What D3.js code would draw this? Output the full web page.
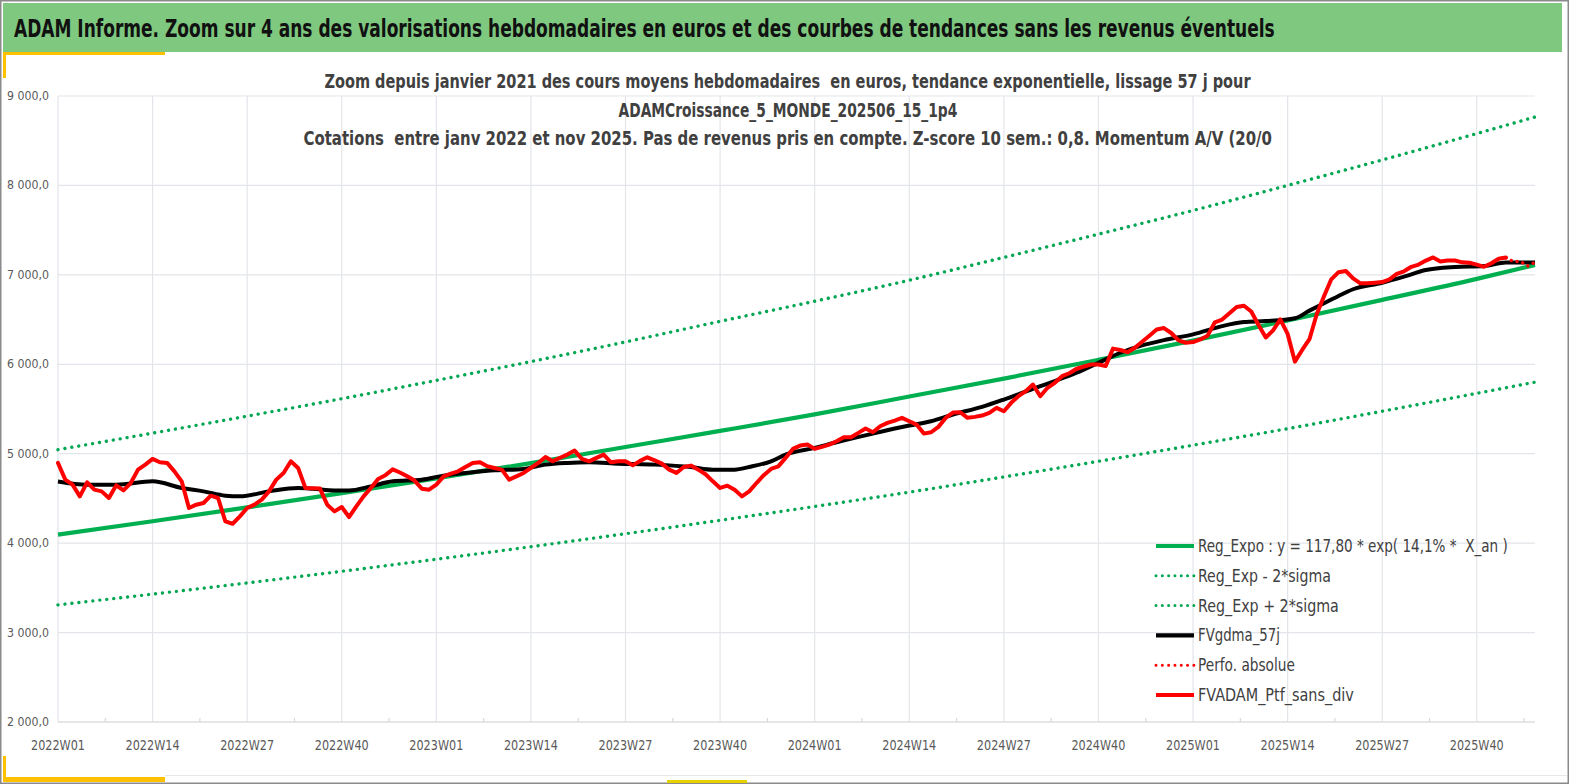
<!DOCTYPE html>
<html>
<head>
<meta charset="utf-8">
<script src="https://cdn.jsdelivr.net/npm/d3@7"></script>
<style>
  body { margin: 0; background: #fff; }
  text { font-family: 'Liberation Sans Narrow', 'DejaVu Sans Condensed', 'Roboto', sans-serif; white-space: pre; }
</style>
</head>
<body>
<div id="chart"></div>
<script>
// x axis labels (one every 13 weeks)
var weekLabels = ['2022W01', '2022W14', '2022W27', '2022W40', '2023W01', '2023W14',
	'2023W27', '2023W40', '2024W01', '2024W14', '2024W27', '2024W40',
	'2025W01', '2025W14', '2025W27', '2025W40'];
var yTicks = [2000, 3000, 4000, 5000, 6000, 7000, 8000, 9000];

// exponential trend and +/- 2 sigma bands, read every 13 weeks
var trendWeeks = [0, 13, 26, 39, 52, 65, 78, 91, 104, 117, 130, 143, 156, 169, 182, 195, 203];
var regExpo = [4095, 4245, 4400, 4560, 4725, 4895, 5075, 5255, 5440, 5640, 5840, 6050, 6265, 6490, 6720, 6955, 7110];
var regLow = [3310, 3430, 3555, 3685, 3820, 3960, 4105, 4255, 4410, 4570, 4740, 4915, 5095, 5280, 5475, 5675, 5800];
var regHigh = [5045, 5230, 5420, 5615, 5820, 6030, 6250, 6480, 6705, 6940, 7195, 7455, 7720, 8000, 8285, 8580, 8765];

// smoothed 57 days
var smoothWeeks = [0, 4, 8, 13, 17, 20, 23, 25, 29, 33, 35, 38, 40, 43, 46, 50, 53, 57, 60, 64, 67, 70, 73, 77,
	82, 87, 90, 93, 95, 98, 100, 104, 107, 112, 117, 120, 123, 127, 130, 134, 137, 140, 143, 146, 149,
	152, 156, 160, 163, 166, 170, 172, 174, 176, 178, 182, 185, 188, 192, 196, 199, 203];
var smoothValues = [4690, 4654, 4654, 4691, 4617, 4579, 4531, 4523, 4579, 4617, 4609, 4590, 4590, 4635, 4691,
	4710, 4755, 4792, 4814, 4830, 4878, 4897, 4904, 4889, 4878, 4852, 4822, 4822, 4852, 4915, 4990,
	5065, 5128, 5225, 5315, 5363, 5438, 5524, 5606, 5726, 5812, 5905, 6017, 6129, 6211, 6270, 6334,
	6427, 6472, 6483, 6515, 6600, 6682, 6764, 6839, 6912, 6980, 7054, 7088, 7099, 7137, 7137];

// weekly portfolio value without dividends, week 0 .. 199
var ptfValues = [
	4897, 4710, 4654, 4523, 4680, 4598, 4579, 4505, 4646, 4590,
	4672, 4822, 4878, 4942, 4904, 4897, 4803, 4691, 4393, 4430,
	4449, 4531, 4505, 4243, 4217, 4299, 4393, 4430, 4486, 4579,
	4710, 4785, 4915, 4841, 4617, 4615, 4610, 4430, 4355, 4404,
	4292, 4411, 4523, 4617, 4718, 4760, 4825, 4790, 4747, 4700,
	4609, 4598, 4654, 4747, 4777, 4803, 4852, 4897, 4904, 4859,
	4841, 4822, 4710, 4747, 4785, 4841, 4897, 4964, 4915, 4955,
	4990, 5035, 4942, 4915, 4953, 4990, 4904, 4915, 4915, 4870,
	4920, 4960, 4926, 4889, 4822, 4785, 4852, 4867, 4822, 4770,
	4691, 4617, 4643, 4598, 4523, 4579, 4672, 4760, 4830, 4859,
	4953, 5054, 5091, 5102, 5054, 5076, 5102, 5139, 5184, 5184,
	5233, 5281, 5240, 5307, 5345, 5371, 5401, 5363, 5326, 5225,
	5240, 5300, 5400, 5460, 5464, 5401, 5412, 5427, 5457, 5513,
	5475, 5569, 5643, 5699, 5774, 5643, 5737, 5793, 5867, 5900,
	5950, 5975, 5998, 5998, 5980, 6175, 6160, 6135, 6185, 6252,
	6320, 6390, 6405, 6350, 6267, 6241, 6248, 6278, 6320, 6470,
	6500, 6570, 6640, 6655, 6590, 6440, 6300, 6380, 6502, 6340,
	6030, 6160, 6280, 6560, 6760, 6950, 7030, 7043, 6960, 6905,
	6905, 6912, 6920, 6950, 7010, 7040, 7090, 7115, 7160, 7195,
	7150, 7160, 7160, 7140, 7135, 7115, 7090, 7130, 7180, 7195];

// absolute performance, only visible past the end of the portfolio line
var perfWeeks = [199, 200, 201, 202, 203];
var perfValues = [7190, 7150, 7150, 7100, 7140];

var legendItems = [
	{name: 'Reg_Expo : y = 117,80 * exp( 14,1% *  X_an )', color: '#00b050', dotted: false},
	{name: 'Reg_Exp - 2*sigma', color: '#00a651', dotted: true},
	{name: 'Reg_Exp + 2*sigma', color: '#00a651', dotted: true},
	{name: 'FVgdma_57j', color: '#000000', dotted: false},
	{name: 'Perfo. absolue', color: '#ff0000', dotted: true},
	{name: 'FVADAM_Ptf_sans_div', color: '#ff0000', dotted: false}
];

var W = 1569, H = 784;
var svg = d3.select('#chart').append('svg')
	.attr('width', W).attr('height', H);

// squeeze a text horizontally to a given width (narrow font look)
function fitWidth(sel, x0, y0, width, anchor) {
	sel.each(function() {
		var len = this.getComputedTextLength();
		var s = width / len;
		var tx = anchor == 'middle' ? x0 - width / 2 : x0;
		d3.select(this).attr('x', 0).attr('y', 0).attr('text-anchor', 'start')
			.attr('transform', 'translate(' + tx + ',' + y0 + ') scale(' + s + ',1)');
	});
}

// frame and banner
svg.append('rect').attr('x', 0.75).attr('y', 0.75).attr('width', W - 1.5).attr('height', H - 1.5)
	.attr('fill', '#fff').attr('stroke', '#8a8a8a').attr('stroke-width', 1.5);
svg.append('rect').attr('x', 3).attr('y', 3).attr('width', 1559).attr('height', 49)
	.attr('fill', '#7ec87f');
svg.append('text')
	.attr('font-size', 25).attr('font-weight', 'bold').attr('fill', '#111')
	.text('ADAM Informe. Zoom sur 4 ans des valorisations hebdomadaires en euros et des courbes de tendances sans les revenus éventuels')
	.call(fitWidth, 14, 37, 1262, 'start');

// yellow accents
var gold = '#ffc000';
svg.append('rect').attr('x', 3).attr('y', 52).attr('width', 162).attr('height', 3).attr('fill', gold);
svg.append('rect').attr('x', 3).attr('y', 52).attr('width', 3).attr('height', 26).attr('fill', gold);
svg.append('rect').attr('x', 3).attr('y', 756).attr('width', 3).attr('height', 26).attr('fill', gold);
svg.append('rect').attr('x', 3).attr('y', 777).attr('width', 162).attr('height', 5).attr('fill', gold);
svg.append('rect').attr('x', 667).attr('y', 780).attr('width', 80).attr('height', 3).attr('fill', '#e6d200');
svg.append('line').attr('x1', 165).attr('x2', 1567).attr('y1', 775.5).attr('y2', 775.5)
	.attr('stroke', '#e8e8e8').attr('stroke-width', 1);

var x = d3.scaleLinear().domain([0, 203]).range([58, 1535]);
var y = d3.scaleLinear().domain([2000, 9000]).range([722, 96]);

// grid
var grid = svg.append('g');
grid.selectAll('.hg').data(yTicks).enter().append('line')
	.attr('x1', 58).attr('x2', 1535)
	.attr('y1', d => y(d)).attr('y2', d => y(d))
	.attr('stroke', '#e3e5ea').attr('stroke-width', 1.2);
grid.selectAll('.vg').data(weekLabels).enter().append('line')
	.attr('x1', (d, i) => x(i * 13)).attr('x2', (d, i) => x(i * 13))
	.attr('y1', y(9000)).attr('y2', y(2000))
	.attr('stroke', '#e3e5ea').attr('stroke-width', 1.2);
grid.selectAll('.mt').data(weekLabels).enter().append('line')
	.attr('x1', (d, i) => x(i * 13 + 6.5)).attr('x2', (d, i) => x(i * 13 + 6.5))
	.attr('y1', y(2000) - 4).attr('y2', y(2000))
	.attr('stroke', '#d9d9d9').attr('stroke-width', 1.2);
grid.append('line').attr('x1', 58).attr('x2', 1535).attr('y1', y(2000)).attr('y2', y(2000))
	.attr('stroke', '#d9d9d9').attr('stroke-width', 1.2);

// axis labels
var fmt = d3.formatLocale({decimal: ',', thousands: '\u00a0', grouping: [3], currency: ['', '€']}).format(',.1f');
svg.append('g').selectAll('text').data(yTicks).enter().append('text')
	.attr('font-size', 11.5).attr('fill', '#595959')
	.text(d => fmt(d))
	.each(function(d) { d3.select(this).call(fitWidth, 7, y(d) + 4, 42, 'start'); });
svg.append('g').selectAll('text').data(weekLabels).enter().append('text')
	.attr('font-size', 14).attr('fill', '#595959')
	.text(d => d)
	.each(function(d, i) { d3.select(this).call(fitWidth, x(i * 13), 750, 54, 'middle'); });

// chart subtitle
var subtitle = [
	['Zoom depuis janvier 2021 des cours moyens hebdomadaires  en euros, tendance exponentielle, lissage 57 j pour', 88, 927],
	['ADAMCroissance_5_MONDE_202506_15_1p4', 117, 339],
	['Cotations  entre janv 2022 et nov 2025. Pas de revenus pris en compte. Z-score 10 sem.: 0,8. Momentum A/V (20/0', 145, 969]
];
svg.append('g').selectAll('text').data(subtitle).enter().append('text')
	.attr('font-size', 19).attr('font-weight', 'bold').attr('fill', '#404040')
	.text(d => d[0])
	.each(function(d) { d3.select(this).call(fitWidth, 788, d[1], d[2], 'middle'); });

// lines
var curve = d3.line().x(d => x(d[0])).y(d => y(d[1])).curve(d3.curveMonotoneX);
var lines = svg.append('g').attr('fill', 'none');
function pairs(ws, vs) { return ws.map((w, i) => [w, vs[i]]); }

lines.append('path').datum(pairs(trendWeeks, regLow)).attr('d', curve)
	.attr('stroke', '#00a651').attr('stroke-width', 3.4)
	.attr('stroke-dasharray', '0.01 7').attr('stroke-linecap', 'round');
lines.append('path').datum(pairs(trendWeeks, regHigh)).attr('d', curve)
	.attr('stroke', '#00a651').attr('stroke-width', 3.4)
	.attr('stroke-dasharray', '0.01 7').attr('stroke-linecap', 'round');
lines.append('path').datum(pairs(trendWeeks, regExpo)).attr('d', curve)
	.attr('stroke', '#00b050').attr('stroke-width', 4.2);
lines.append('path').datum(pairs(smoothWeeks, smoothValues)).attr('d', curve)
	.attr('stroke', '#000').attr('stroke-width', 4);
lines.append('path').datum(pairs(perfWeeks, perfValues))
	.attr('d', d3.line().x(d => x(d[0])).y(d => y(d[1])))
	.attr('stroke', '#ff0000').attr('stroke-width', 3.4)
	.attr('stroke-dasharray', '0.01 6').attr('stroke-linecap', 'round');
lines.append('path').datum(ptfValues.map((v, i) => [i, v]))
	.attr('d', d3.line().x(d => x(d[0])).y(d => y(d[1])))
	.attr('stroke', '#ff0000').attr('stroke-width', 4)
	.attr('stroke-linejoin', 'round').attr('stroke-linecap', 'round');

// legend
var legendWidths = [310, 133, 141, 82, 97, 156];
var legend = svg.append('g').selectAll('g').data(legendItems).enter().append('g')
	.attr('transform', (d, i) => 'translate(1156,' + (546 + i * 29.8) + ')');
legend.append('line').attr('x1', 0).attr('x2', 38).attr('y1', 0).attr('y2', 0)
	.attr('stroke', d => d.color)
	.attr('stroke-width', d => d.dotted ? 3 : 4.2)
	.attr('stroke-dasharray', d => d.dotted ? '0.01 6.3' : null)
	.attr('stroke-linecap', d => d.dotted ? 'round' : 'butt');
legend.append('text')
	.attr('font-size', 17).attr('fill', '#404040')
	.text(d => d.name)
	.each(function(d, i) { d3.select(this).call(fitWidth, 42, 6, legendWidths[i], 'start'); });
</script>
</body>
</html>
